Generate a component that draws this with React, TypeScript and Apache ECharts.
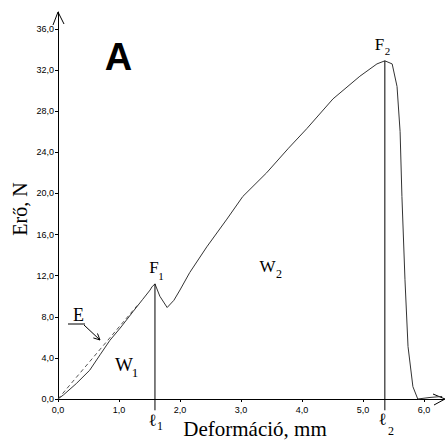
import React, { useEffect, useRef } from "react";
import * as echarts from "echarts";

// Force–deformation record (mm, N)
const defX = [0, 0.09, 0.3, 0.52, 0.69, 0.85, 1.02, 1.23, 1.39, 1.51, 1.54, 1.59, 1.67, 1.79, 1.9, 2.0, 2.16, 2.44, 2.77, 3.03, 3.42, 3.78, 4.08, 4.51, 4.95, 5.23, 5.36, 5.48, 5.56, 5.61, 5.64, 5.69, 5.74, 5.82, 5.9, 6.1, 6.3];
const forceY = [0, 0.4, 1.5, 2.8, 4.3, 5.7, 6.9, 8.5, 9.7, 10.6, 10.9, 11.2, 10.0, 8.9, 9.6, 10.6, 12.3, 14.8, 17.5, 19.7, 22.0, 24.4, 26.3, 29.2, 31.4, 32.6, 32.9, 32.6, 30.4, 26.0, 19.7, 11.6, 5.1, 1.2, 0, 0.15, 0.25];

// Elastic (tangent) line E
const eLineX = [0, 1.3];
const eLineY = [0, 9.1];

// Characteristic points
const l1 = 1.59;
const F1 = 11.2;
const l2 = 5.36;
const F2 = 32.9;

const xTicks = [0, 1, 2, 3, 4, 5, 6];
const yTicks = [0, 4, 8, 12, 16, 20, 24, 28, 32, 36];

const SERIF = "'Liberation Serif', 'DejaVu Serif', serif";
const SANS = "'Liberation Sans', Arial, sans-serif";

const fmt = (v: number) => v.toFixed(1).replace(".", ",");

function txt(text: string, x: number, y: number, size: number, extra: any = {}) {
  return {
    type: "text",
    x,
    y,
    style: {
      text,
      fontSize: size,
      fontFamily: SERIF,
      fill: "#000",
      align: "center",
      verticalAlign: "middle",
      ...extra,
    },
  };
}

function arrowHead(x1: number, y1: number, x2: number, y2: number, len: number, ang: number) {
  const a = Math.atan2(y1 - y2, x1 - x2);
  return {
    type: "polyline",
    shape: {
      points: [
        [x2 + len * Math.cos(a + ang), y2 + len * Math.sin(a + ang)],
        [x2, y2],
        [x2 + len * Math.cos(a - ang), y2 + len * Math.sin(a - ang)],
      ],
    },
    style: { stroke: "#000", lineWidth: 1, fill: null },
  };
}

export default function App() {
  const ref = useRef<HTMLDivElement>(null);

  useEffect(() => {
    if (!ref.current) return;
    const chart = echarts.init(ref.current, null, { renderer: "svg" });
    const curve = defX.map((x, i) => [x, forceY[i]]);
    const eLine = eLineX.map((x, i) => [x, eLineY[i]]);

    chart.setOption({
      animation: false,
      backgroundColor: "#fff",
      grid: { left: 58, right: 2, top: 12, bottom: 42 },
      xAxis: {
        type: "value",
        min: 0,
        max: 6.33,
        splitLine: { show: false },
        axisLine: { lineStyle: { color: "#000", width: 1 } },
        axisTick: { length: 3, customValues: xTicks, lineStyle: { color: "#000" } },
        axisLabel: {
          customValues: xTicks,
          formatter: fmt,
          margin: 6,
          fontSize: 9,
          fontFamily: SANS,
          color: "#000",
        },
      },
      yAxis: {
        type: "value",
        min: 0,
        max: 37.65,
        splitLine: { show: false },
        axisLine: { lineStyle: { color: "#000", width: 1 } },
        axisTick: { length: 3, customValues: yTicks, lineStyle: { color: "#000" } },
        axisLabel: {
          customValues: yTicks,
          formatter: fmt,
          margin: 4,
          fontSize: 9,
          fontFamily: SANS,
          color: "#000",
        },
      },
      series: [
        {
          type: "line",
          data: eLine,
          symbol: "none",
          lineStyle: { color: "#555", width: 1, type: [4, 3] },
        },
        {
          type: "line",
          data: curve,
          symbol: "none",
          clip: false,
          lineStyle: { color: "#333", width: 1 },
        },
        {
          type: "line",
          data: [[l1, -1.1], [l1, F1]],
          symbol: "none",
          clip: false,
          lineStyle: { color: "#000", width: 1 },
        },
        {
          type: "line",
          data: [[l2, -1.1], [l2, F2]],
          symbol: "none",
          clip: false,
          lineStyle: { color: "#000", width: 1 },
        },
      ],
      graphic: [
        // axis arrowheads
        { type: "polyline", shape: { points: [[53, 25], [58, 12], [64, 24]] }, style: { stroke: "#000", lineWidth: 1, fill: null } },
        { type: "polyline", shape: { points: [[433, 394], [445, 399], [434, 405]] }, style: { stroke: "#000", lineWidth: 1, fill: null } },
        // panel letter
        txt("A", 118.5, 57, 38, { fontFamily: SANS, fontWeight: "bold" }),
        // axis titles
        txt("Deformáció, mm", 255, 429, 21),
        { ...txt("Erő, N", 0, 0, 20), x: 20, y: 209, rotation: Math.PI / 2 },
        // F1, F2
        txt("F", 154, 267, 17),
        txt("1", 161, 276, 11),
        txt("F", 379.5, 44, 17),
        txt("2", 387.5, 51, 11),
        // W1, W2
        txt("W", 124, 364, 19),
        txt("1", 135, 372, 13),
        txt("W", 267.5, 266, 17),
        txt("2", 279, 274, 12),
        // l1, l2
        txt("ℓ", 152.5, 420, 17),
        txt("1", 160, 426, 12),
        txt("ℓ", 382.5, 419, 17),
        txt("2", 391, 431, 12),
        // E label with pointer
        txt("E", 78.5, 315, 18),
        { type: "line", shape: { x1: 68, y1: 324, x2: 85, y2: 324 }, style: { stroke: "#000", lineWidth: 1 } },
        { type: "line", shape: { x1: 84, y1: 325, x2: 100, y2: 340 }, style: { stroke: "#000", lineWidth: 1 } },
        arrowHead(84, 325, 100, 340, 7, 0.45),
      ],
    });
    return () => chart.dispose();
  }, []);

  return (
    <div
      ref={ref}
      style={{ position: "fixed", left: 0, top: 0, width: 446, height: 441, background: "#fff" }}
    />
  );
}
